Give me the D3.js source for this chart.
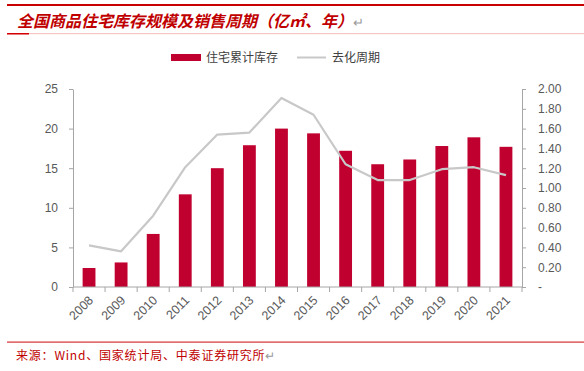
<!DOCTYPE html>
<html>
<head>
<meta charset="utf-8">
<script src="https://cdn.jsdelivr.net/npm/d3@7"></script>
<style>
  body { margin: 0; background: #fff; }
  svg { display: block; }
</style>
</head>
<body>
<div id="chart"></div>
<script>
// data
var years = ["2008","2009","2010","2011","2012","2013","2014","2015","2016","2017","2018","2019","2020","2021"];
var inventory = [2.4, 3.1, 6.7, 11.7, 15.0, 17.9, 20.0, 19.4, 17.2, 15.5, 16.1, 17.8, 18.9, 17.7];
var cycle = [0.42, 0.36, 0.72, 1.21, 1.54, 1.56, 1.91, 1.74, 1.24, 1.08, 1.08, 1.19, 1.21, 1.13];
var leftTicks = [0, 5, 10, 15, 20, 25];
var rightTicks = [0, 0.2, 0.4, 0.6, 0.8, 1.0, 1.2, 1.4, 1.6, 1.8, 2.0];

var W = 584, H = 371;
var margin = {top: 89, right: 62, bottom: 84, left: 73},
    width = W - margin.left - margin.right,
    height = H - margin.top - margin.bottom;

var red = "#c0002f", grey = "#c8c8c8", axisCol = "#a6a6a6", txt = "#595959";
var cjk = "'Noto Sans CJK SC', sans-serif";

var svg = d3.select("#chart").append("svg")
    .attr("width", W).attr("height", H);

// header / footer rules
svg.append("rect").attr("x", 7).attr("y", 4).attr("width", W - 7).attr("height", 2).attr("fill", "#c80000");
svg.append("rect").attr("x", 7).attr("y", 33).attr("width", W - 7).attr("height", 1.2).attr("fill", "#f6c6c6");
svg.append("rect").attr("x", 7).attr("y", 33).attr("width", 22).attr("height", 1.5).attr("fill", "#d40000");
svg.append("rect").attr("x", 7).attr("y", 341.5).attr("width", W - 7).attr("height", 1.2).attr("fill", "#d83030");

svg.append("text")
    .attr("x", 17).attr("y", 27)
    .style("font-family", cjk).style("font-size", "16px").style("font-style", "italic")
    .style("font-weight", "bold").attr("fill", "#c00000")
    .text("全国商品住宅库存规模及销售周期（亿㎡、年）")
  .append("tspan").attr("fill", "#999").style("font-weight", "normal").style("font-style", "normal")
    .style("font-size", "13px").text("↵");

svg.append("text")
    .attr("x", 16).attr("y", 360)
    .style("font-family", cjk).style("font-size", "12px").style("letter-spacing", "0.8px")
    .attr("fill", "#c00000")
    .text("来源：Wind、国家统计局、中泰证券研究所")
  .append("tspan").attr("fill", "#999").text("↵");

// legend
var lg = svg.append("g").style("font-family", cjk).style("font-size", "12px").attr("fill", "#404040");
lg.append("rect").attr("x", 171).attr("y", 54).attr("width", 30).attr("height", 7).attr("fill", red);
lg.append("text").attr("x", 206).attr("y", 62).text("住宅累计库存");
lg.append("line").attr("x1", 297).attr("x2", 326).attr("y1", 57.5).attr("y2", 57.5)
    .attr("stroke", grey).attr("stroke-width", 2);
lg.append("text").attr("x", 332).attr("y", 62).text("去化周期");

var g = svg.append("g").attr("transform", "translate(" + margin.left + "," + margin.top + ")");

var x = d3.scaleBand().domain(years).range([0, width]).paddingInner(0.6).paddingOuter(0.3);
var yL = d3.scaleLinear().domain([0, 25]).range([height, 0]);
var yR = d3.scaleLinear().domain([0, 2]).range([height, 0]);

// bars
g.selectAll(".bar").data(inventory).enter().append("rect")
    .attr("class", "bar")
    .attr("x", (d, i) => x(years[i]))
    .attr("width", x.bandwidth())
    .attr("y", d => yL(d))
    .attr("height", d => height - yL(d))
    .attr("fill", red);

// line
var line = d3.line()
    .x((d, i) => x(years[i]) + x.bandwidth() / 2)
    .y(d => yR(d));
g.append("path").attr("d", line(cycle))
    .attr("fill", "none").attr("stroke", grey).attr("stroke-width", 2.2)
    .attr("stroke-linejoin", "round");

// axes
function styleAxis(sel) {
  sel.selectAll("path, line").attr("stroke", axisCol);
  sel.selectAll("text").attr("fill", txt)
     .style("font-family", "'Liberation Sans', Arial, sans-serif").style("font-size", "12px");
}

var axL = g.append("g")
    .call(d3.axisLeft(yL).tickValues(leftTicks).tickSize(4).tickSizeOuter(0).tickPadding(11))
    .call(styleAxis);

var axR = g.append("g").attr("transform", "translate(" + width + ",0)")
    .call(d3.axisRight(yR).tickValues(rightTicks).tickSize(4).tickSizeOuter(0).tickPadding(12)
      .tickFormat(d => d === 0 ? "-" : d3.format(".2f")(d)))
    .call(styleAxis);

// bottom axis: ticks at band edges
var band = width / years.length;
var xb = g.append("g").attr("transform", "translate(0," + height + ")");
xb.append("line").attr("x1", 0).attr("x2", width).attr("stroke", axisCol);
xb.selectAll(".tk").data(d3.range(years.length + 1)).enter().append("line")
    .attr("x1", i => i * band).attr("x2", i => i * band)
    .attr("y1", 0).attr("y2", 5).attr("stroke", axisCol);
xb.selectAll(".lbl").data(years).enter().append("text")
    .attr("transform", d => "translate(" + (x(d) + x.bandwidth() / 2 + 5) + ",14) rotate(-45)")
    .attr("text-anchor", "end")
    .attr("fill", txt)
    .style("font-family", "'Liberation Sans', Arial, sans-serif").style("font-size", "12.5px")
    .text(d => d);
</script>
</body>
</html>
